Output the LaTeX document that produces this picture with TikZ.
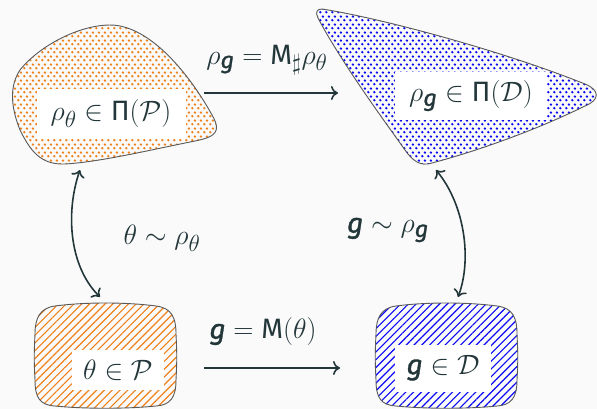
\documentclass[tikz,border=0pt]{standalone}
\usepackage{amsmath}
\usepackage{fontspec}
\newfontfamily\fira{Fira Sans}
\newfontfamily\firag[FakeBold=1.2]{Fira Sans}
\usetikzlibrary{patterns.meta,arrows.meta}
\definecolor{mdark}{HTML}{23373B}
\definecolor{mbg}{HTML}{FAFAFA}
\definecolor{morange}{HTML}{F08018}
\definecolor{mblue}{HTML}{0A0AF5}
\newcommand{\sg}{\text{\firag\itshape g}}
\newcommand{\sM}{\text{\fira M}}
\newcommand{\sPi}{\text{\fira Π}}
\newcommand{\mtxt}[1]{\scalebox{1.125}{$#1$}}
\tikzdeclarepattern{
  name=sdots,
  type=uncolored,
  bounding box={(0pt,0pt) and (5.6pt,7.6pt)},
  tile size={(5.6pt,7.6pt)},
  code={\fill (1.4pt,1.9pt) circle (1.35pt); \fill (4.2pt,5.7pt) circle (1.35pt);}
}
\newcommand{\squirclepath}{(55,306) .. controls (85,302) and (126,302) .. (156,306)
  .. controls (172,308) and (176,318) .. (176,334)
  .. controls (177,355) and (177,360) .. (176,380)
  .. controls (176,398) and (170,405) .. (156,406)
  .. controls (126,409) and (85,409) .. (55,406)
  .. controls (40,405) and (35,398) .. (35,380)
  .. controls (34,360) and (34,355) .. (35,334)
  .. controls (35,318) and (40,308) .. (55,306) -- cycle}
\begin{document}
\begin{tikzpicture}[x=1pt,y=-1pt,
  font=\fontsize{24.88}{30}\selectfont, text=mdark,
  blob/.style={draw=black!65, line width=0.9pt},
  lbl/.style={fill=white, inner sep=0pt},
  hatch/.style={pattern={Lines[angle=45,distance=5.5pt,line width=1.15pt]}},
  conn/.style={draw=mdark, line width=1.6pt, {Computer Modern Rightarrow[length=7pt,width=14pt]}-{Computer Modern Rightarrow[length=7pt,width=14pt]}},
  sconn/.style={draw=mdark, line width=1.6pt, -{Computer Modern Rightarrow[length=7pt,width=14pt]}}]
\useasboundingbox (0,0) rectangle (597,409);
\fill[mbg] (0,0) rectangle (597,409);
% top-left blob
\path[blob, pattern={sdots}, pattern color=morange]
  (110,25) .. controls (150,25) and (190,75) .. (212,115)
  .. controls (222,132) and (215,137) .. (195,141)
  .. controls (150,150) and (100,162) .. (65,164)
  .. controls (40,165) and (30,150) .. (20,130)
  .. controls (10,105) and (10,85) .. (20,70)
  .. controls (40,45) and (80,25) .. (110,25) -- cycle;
% top-right blob
\path[blob, pattern={sdots}, pattern color=mblue]
  (322,9) .. controls (380,18) and (500,50) .. (585,84)
  .. controls (600,90) and (600,100) .. (585,106)
  .. controls (530,133) and (470,153) .. (432,163)
  .. controls (420,167) and (412,160) .. (405,150)
  .. controls (380,115) and (340,60) .. (318,18)
  .. controls (315,12) and (317,9) .. (322,9) -- cycle;
% bottom boxes
\path[blob, hatch, pattern color=morange] \squirclepath;
\begin{scope}[xshift=341]
\path[blob, hatch, pattern color=mblue] \squirclepath;
\end{scope}
% texts
\node[lbl, minimum width=149, minimum height=50] (tl) at (111,114) {\mtxt{\rho_\theta \in \sPi(\mathcal{P})}};
\node[lbl, minimum width=152, minimum height=48] (tr) at (471,96) {\mtxt{\rho_{\sg} \in \sPi(\mathcal{D})}};
\node[lbl, minimum width=92, minimum height=40] (bl) at (118,370) {\mtxt{\theta \in \mathcal{P}}};
\node[lbl, minimum width=96, minimum height=47] (br) at (443,368) {\mtxt{\sg \in \mathcal{D}}};
% labels
\node (lt) at (267,60) {\mtxt{\rho_{\sg} = \sM_\sharp\rho_\theta}};
\node (lb) at (263,332) {\mtxt{\sg = \sM(\theta)}};
\node (ll) at (162,238) {\mtxt{\theta\sim\rho_\theta}};
\node (lr) at (388,230) {\mtxt{\sg\sim\rho_{\sg}}};
% connector ends
\coordinate (a1s) at (204,93);
\coordinate (a1e) at (338,93);
\coordinate (a2s) at (204,368);
\coordinate (a2e) at (340,368);
\coordinate (l1) at (80,170);
\coordinate (l2) at (100,297);
\coordinate (r1) at (436,170);
\coordinate (r2) at (458,297);
\draw[sconn] (a1s) -- (a1e);
\draw[sconn] (a2s) -- (a2e);
\draw[conn] (l1) .. controls (66,210) and (68,265) .. (l2);
\draw[conn] (r1) .. controls (465,205) and (472,260) .. (r2);
\end{tikzpicture}
\end{document}
